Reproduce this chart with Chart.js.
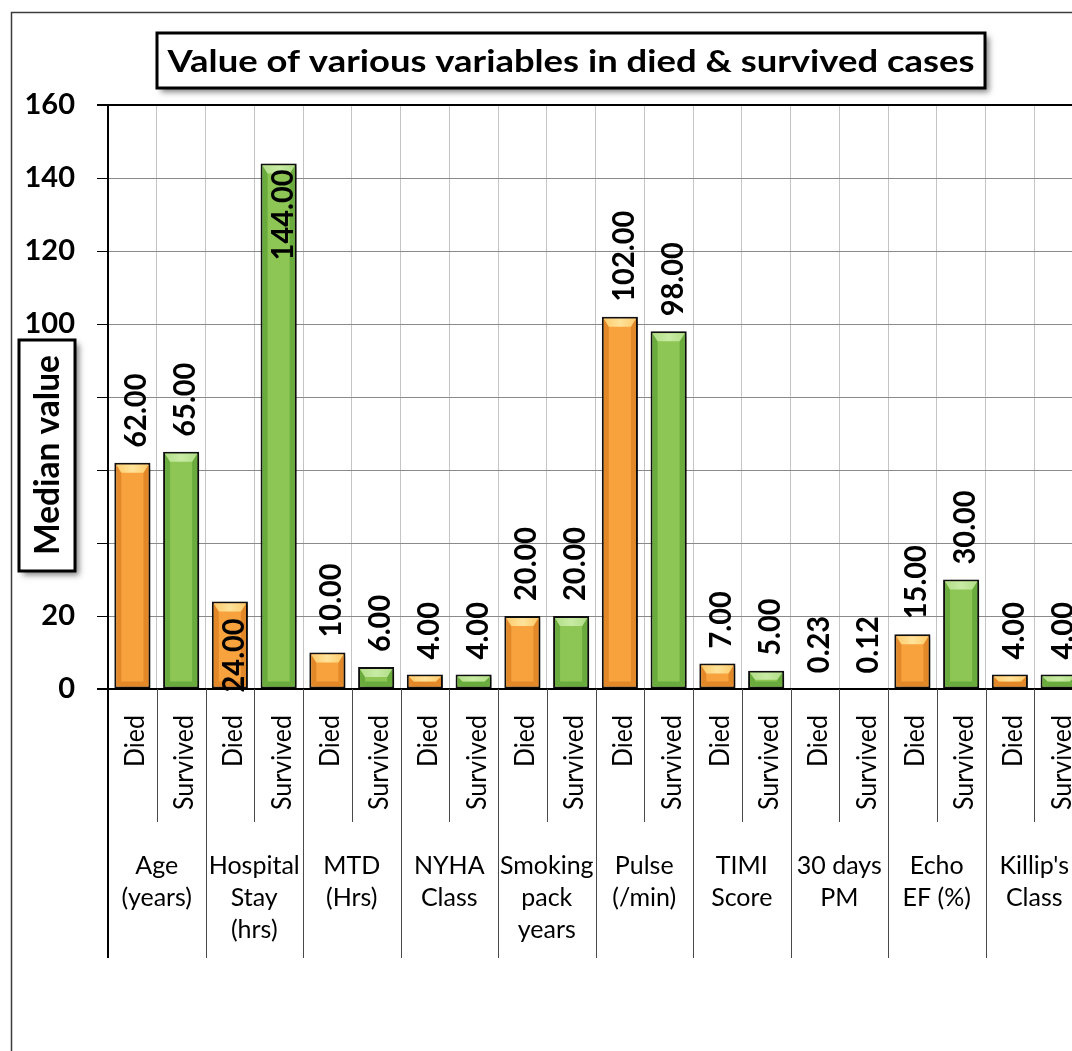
<!DOCTYPE html>
<html>
<head>
<meta charset="utf-8">
<title>Median values - died vs survived</title>
<script src="https://cdn.jsdelivr.net/npm/chart.js@4.4.1/dist/chart.umd.min.js"></script>
<style>
  html, body { margin: 0; padding: 0; background: #fff; overflow: hidden; }
  #wrap { width: 1100px; height: 1051px; }
</style>
</head>
<body>
<div id="wrap"><canvas id="chart" width="1100" height="1051"></canvas></div>
<script>
// ---- data ----
const groupLabels = [
    ["Age", "(years)"],
    ["Hospital", "Stay", "(hrs)"],
    ["MTD", "(Hrs)"],
    ["NYHA", "Class"],
    ["Smoking", "pack", "years"],
    ["Pulse", "(/min)"],
    ["TIMI", "Score"],
    ["30 days", "PM"],
    ["Echo", "EF (%)"],
    ["Killip's", "Class"]
];
const outcomes = ["Died", "Survived"];
const diedMedian = [62, 24, 10, 4, 20, 102, 7, 0.23, 15, 4];
const survivedMedian = [65, 144, 6, 4, 20, 98, 5, 0.12, 30, 4];
const yTickValues = [0, 20, 40, 60, 80, 100, 120, 140, 160];
const chartTitle = "Value of various variables in died & survived cases";
const yTitle = "Median value";

// one bar per group/outcome, in picture order
const labels = [];
const values = [];
groupLabels.forEach((g, i) => {
    labels.push(g.join(" ") + " - " + outcomes[0]);
    values.push(diedMedian[i]);
    labels.push(g.join(" ") + " - " + outcomes[1]);
    values.push(survivedMedian[i]);
});

const ORANGE = { fill: "#F8A23E", light: "#FFCB6C", dark: "#DC8224" };
const GREEN = { fill: "#8DC654", light: "#B2DE88", dark: "#61A437" };
const barColors = values.map((v, i) => (i % 2 === 0 ? ORANGE.fill : GREEN.fill));

// where a value label sits if not above the bar
const labelPlacement = { 2: "base", 3: "inside" };

const FONT = "Lato";

function boxWithShadow(c, x, y, w, h) {
    c.save();
    c.shadowColor = "rgba(0,0,0,0.5)";
    c.shadowBlur = 6;
    c.shadowOffsetX = 4;
    c.shadowOffsetY = 4;
    c.fillStyle = "#fff";
    c.fillRect(x, y, w, h);
    c.restore();
    c.strokeStyle = "#000";
    c.lineWidth = 3;
    c.strokeRect(x, y, w, h);
}

const decor = {
    id: "decor",
    beforeDraw(chart) {
        const c = chart.ctx;
        c.save();
        c.strokeStyle = "#3c3c3c";
        c.lineWidth = 1.5;
        c.beginPath();
        c.moveTo(11.5, chart.height);
        c.lineTo(11.5, 12.5);
        c.lineTo(chart.width, 12.5);
        c.stroke();
        c.restore();
    },
    beforeDatasetsDraw(chart) {
        const c = chart.ctx;
        c.save();
        c.shadowColor = "rgba(0,0,0,0.45)";
        c.shadowBlur = 6;
        c.shadowOffsetX = 4;
        c.shadowOffsetY = 2;
    },
    afterDatasetsDraw(chart) {
        const c = chart.ctx;
        c.restore();

        const meta = chart.getDatasetMeta(0);

        // bevel look on each bar
        c.save();
        meta.data.forEach((bar, i) => {
            const p = bar.getProps(["x", "y", "base", "width"], true);
            const bw = 2;
            const L = p.x - p.width / 2 + bw, R = p.x + p.width / 2 - bw;
            const T = Math.min(p.y, p.base) + bw, B = Math.max(p.y, p.base) - bw;
            if (B - T < 3) return;
            const pal = i % 2 === 0 ? ORANGE : GREEN;
            const b = Math.min(8, (B - T) / 2);
            const s = Math.min(5, (B - T) / 2);

            c.fillStyle = pal.dark;
            c.globalAlpha = 0.8;
            c.beginPath();
            c.moveTo(L, T); c.lineTo(L + s, T + b); c.lineTo(L + s, B - s); c.lineTo(L, B);
            c.closePath(); c.fill();
            c.beginPath();
            c.moveTo(R, T); c.lineTo(R - s, T + b); c.lineTo(R - s, B - s); c.lineTo(R, B);
            c.closePath(); c.fill();
            c.beginPath();
            c.moveTo(L, B); c.lineTo(L + s, B - s); c.lineTo(R - s, B - s); c.lineTo(R, B);
            c.closePath(); c.fill();

            c.globalAlpha = 1;
            const g = c.createLinearGradient(L, 0, R, 0);
            g.addColorStop(0, pal.light);
            g.addColorStop(0.5, i % 2 === 0 ? "#FFE39A" : "#C8EBA4");
            g.addColorStop(1, pal.light);
            c.fillStyle = g;
            c.beginPath();
            c.moveTo(L, T); c.lineTo(R, T); c.lineTo(R - s, T + b); c.lineTo(L + s, T + b);
            c.closePath(); c.fill();
        });
        c.restore();

        // value labels, rotated
        c.save();
        c.fillStyle = "#000";
        c.font = "bold 29px " + FONT;
        c.textBaseline = "alphabetic";
        meta.data.forEach((bar, i) => {
            const p = bar.getProps(["x", "y", "base"], true);
            const txt = values[i].toFixed(2);
            const place = labelPlacement[i] || "outside";
            let anchor, align;
            if (place === "inside") { anchor = p.y + 6; align = "right"; }
            else if (place === "base") { anchor = p.base + 4; align = "left"; }
            else { anchor = p.y - 15; align = "left"; }
            c.save();
            c.translate(p.x + 14, anchor);
            c.rotate(-Math.PI / 2);
            c.scale(1, 1.08);
            c.textAlign = align;
            c.fillText(txt, 0, 0);
            c.restore();
        });
        c.restore();
    },
    afterDraw(chart) {
        const c = chart.ctx;
        const area = chart.chartArea;
        const xs = chart.scales.x;
        const n = values.length;
        const step = (area.right - area.left) / n;

        // axis line over the bar shadows
        c.save();
        c.strokeStyle = "#000";
        c.lineWidth = 2;
        c.beginPath();
        c.moveTo(area.left - 11, area.bottom);
        c.lineTo(chart.width, area.bottom);
        c.stroke();

        // divider lines of the two-level category axis
        c.strokeStyle = "#4a4a4a";
        c.lineWidth = 1;
        for (let k = 1; k <= n; k++) {
            const x = Math.round(area.left + k * step) + 0.5;
            c.beginPath();
            c.moveTo(x, area.bottom);
            c.lineTo(x, k % 2 === 0 ? 958 : 822);
            c.stroke();
        }
        c.strokeStyle = "#000";
        c.lineWidth = 2;
        c.beginPath();
        c.moveTo(area.left, area.top);
        c.lineTo(area.left, 958);
        c.stroke();

        // outcome labels
        c.fillStyle = "#000";
        c.font = "25px " + FONT;
        for (let i = 0; i < n; i++) {
            const x = xs.getPixelForValue(i);
            c.save();
            c.translate(x + 12, 715);
            c.rotate(-Math.PI / 2);
            c.scale(1, 1.08);
            c.textAlign = "right";
            c.textBaseline = "alphabetic";
            c.fillText(outcomes[i % 2], 0, 0);
            c.restore();
        }

        // group labels
        c.textAlign = "center";
        c.textBaseline = "alphabetic";
        groupLabels.forEach((g, gi) => {
            const cx = (xs.getPixelForValue(gi * 2) + xs.getPixelForValue(gi * 2 + 1)) / 2;
            g.forEach((line, li) => c.fillText(line, cx, 874 + li * 32));
        });

        // title box
        boxWithShadow(c, 157, 33, 828, 55);
        c.save();
        c.translate(571, 62);
        c.scale(1.175, 1);
        c.fillStyle = "#000";
        c.font = "bold 31px " + FONT;
        c.textAlign = "center";
        c.textBaseline = "middle";
        c.fillText(chartTitle, 0, 0);
        c.restore();

        // y title box (covers the middle tick labels, as in the picture)
        boxWithShadow(c, 19, 340, 56, 231);
        c.save();
        c.translate(48, 455);
        c.rotate(-Math.PI / 2);
        c.scale(0.985, 1);
        c.fillStyle = "#000";
        c.font = "bold 34px " + FONT;
        c.textAlign = "center";
        c.textBaseline = "middle";
        c.fillText(yTitle, 0, 0);
        c.restore();
        c.restore();
    }
};

new Chart(document.getElementById("chart"), {
    type: "bar",
    data: {
        labels: labels,
        datasets: [{
            label: "Median value",
            data: values,
            backgroundColor: barColors,
            borderColor: "#111",
            borderWidth: 2,
            borderSkipped: false,
            categoryPercentage: 1,
            barPercentage: 0.74
        }]
    },
    options: {
        responsive: false,
        animation: false,
        devicePixelRatio: 1,
        layout: { padding: { top: 105, right: 17, bottom: 362, left: 0 } },
        plugins: {
            legend: { display: false },
            title: { display: false },
            tooltip: { enabled: false }
        },
        scales: {
            x: {
                ticks: { display: false },
                grid: { offset: true, color: "#c4c4c4", lineWidth: 1, drawTicks: false },
                border: { color: "#000", width: 2 }
            },
            y: {
                min: 0,
                max: 160,
                afterFit(scale) { scale.width = 108; },
                afterBuildTicks(scale) { scale.ticks = yTickValues.map(v => ({ value: v })); },
                ticks: {
                    color: "#000",
                    padding: 22,
                    font: { family: FONT, size: 29, weight: "bold" }
                },
                grid: {
                    color: ctx => (ctx.tick && ctx.tick.value === 160 ? "#000" : "#8a8a8a"),
                    lineWidth: ctx => (ctx.tick && ctx.tick.value === 160 ? 2 : 1),
                    tickLength: 11,
                    tickColor: "#000"
                },
                border: { color: "#000", width: 2 }
            }
        }
    },
    plugins: [decor]
});
</script>
</body>
</html>
